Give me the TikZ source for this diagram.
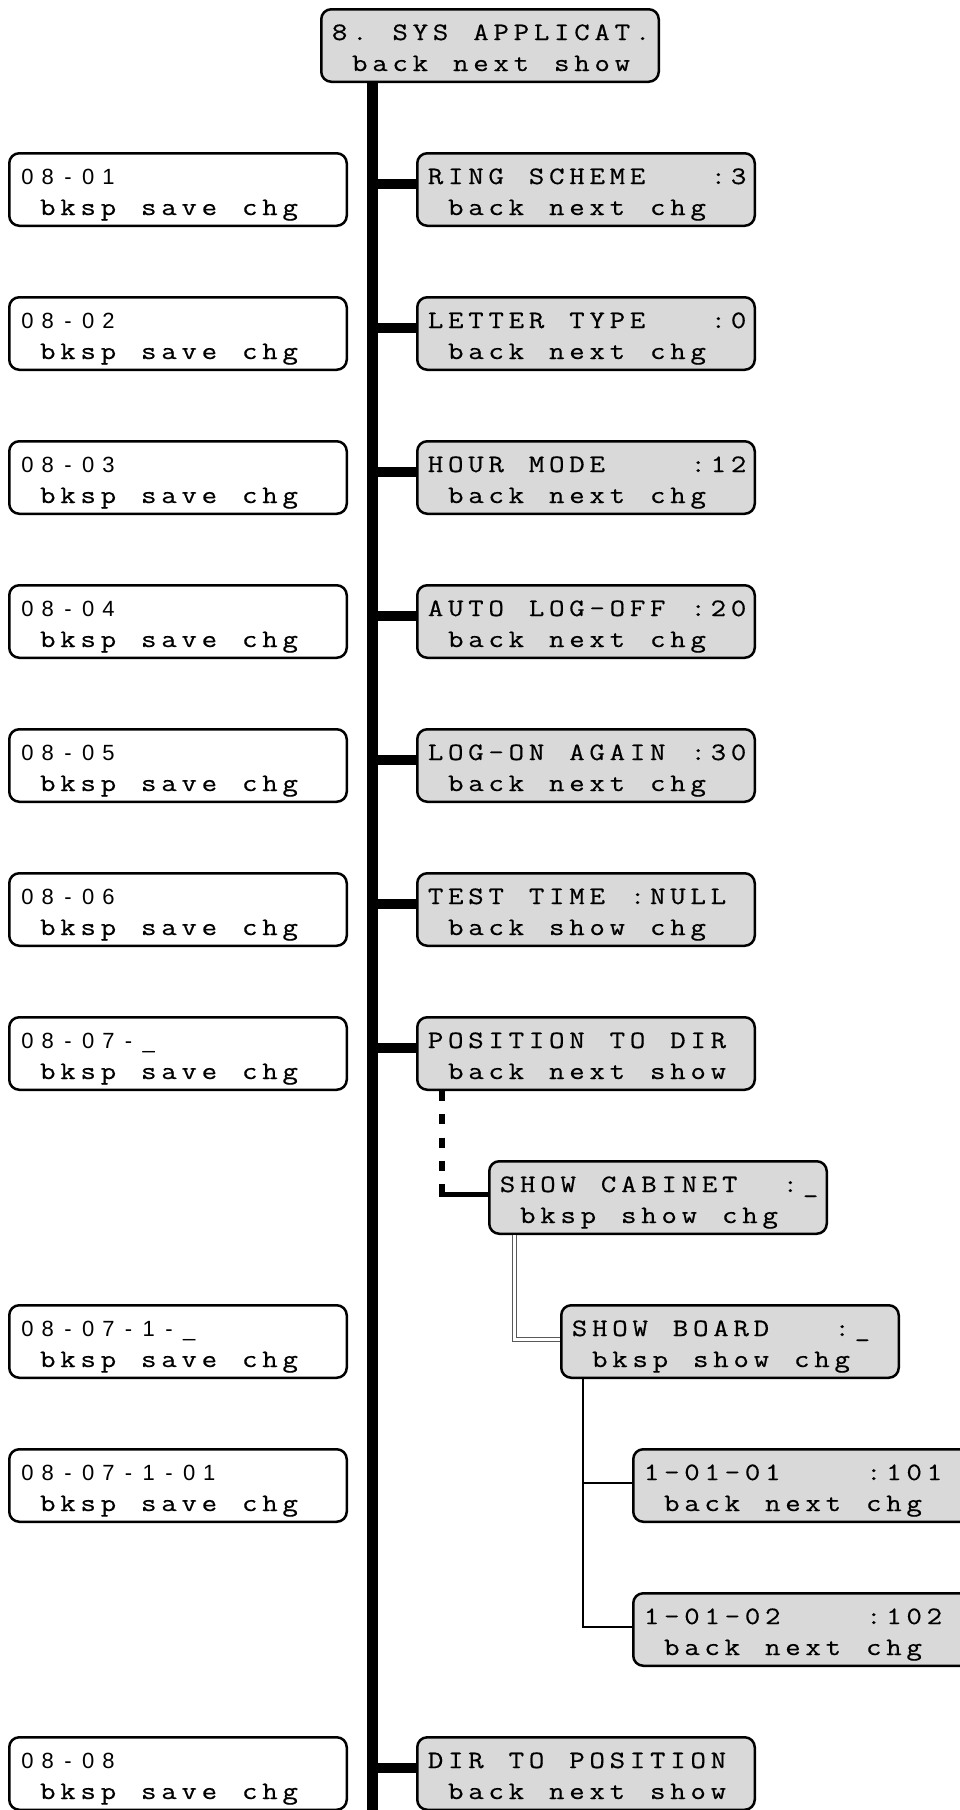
\documentclass[tikz,border=0pt]{standalone}
\usepackage{fontspec}
\newfontfamily\lcdmono[FakeStretch=1.2,FakeBold=0.5]{Latin Modern Mono}
\newfontfamily\lcdsans{Liberation Sans}
\definecolor{lcdgray}{RGB}{217,217,217}

\newlength\lcdpitch
\setlength\lcdpitch{20.2pt}
\newcommand\lcdfont{\lcdmono\fontsize{25pt}{31pt}\selectfont}
\def\cellloop#1{\ifx#1\relax\else\makebox[\lcdpitch]{#1}\expandafter\cellloop\fi}
\newcommand\cells[1]{\cellloop#1\relax}
\newcommand\digits[1]{{\lcdsans\fontsize{22pt}{31pt}\selectfont\cellloop#1\relax}}
\newcommand\twolines[2]{\vbox to 72.5pt{\offinterlineskip
  \kern30.75pt\hbox to 321pt{\raisebox{0pt}[0pt][0pt]{#1}\hss}%
  \kern31pt\hbox to 321pt{\raisebox{0pt}[0pt][0pt]{\cells{#2}}\hss}\vss}}
\newcommand\lcdlines[2]{\twolines{\cells{#1}}{#2}}
\newcommand\vallines[2]{\twolines{\digits{#1}}{#2}}

\begin{document}
\begin{tikzpicture}[x=1pt,y=-1pt,
lcd/.style={
  draw,
  line width=2.5pt,
  rounded corners=10pt,
  fill=lcdgray,
  inner xsep=8.25pt,
  inner ysep=0pt,
  anchor=north west,
  font=\lcdfont
  },
entry/.style={lcd, fill=white},
trunk/.style={line width=11pt},
branch/.style={line width=10pt},
dashlink/.style={line width=6pt, dash pattern=on 10pt off 13.3pt},
sublink/.style={line width=5pt},
dbllink/.style={draw=black!65, double=white, double distance=3pt, line width=1pt},
leaflink/.style={line width=2pt}
]
\useasboundingbox (0,0) rectangle (960,1810);
\clip (0,0) rectangle (960,1810);

% menu column
\node[lcd] (sys) at (320,8) {\lcdlines{8.~SYS~APPLICAT.}{~back~next~show}};
\node[lcd] (set-1) at (416,152) {\lcdlines{RING~SCHEME~~~:3}{~back~next~chg}};
\node[lcd] (set-2) at (416,296) {\lcdlines{LETTER~TYPE~~~:0}{~back~next~chg}};
\node[lcd] (set-3) at (416,440) {\lcdlines{HOUR~MODE~~~~:12}{~back~next~chg}};
\node[lcd] (set-4) at (416,584) {\lcdlines{AUTO~LOG-OFF~:20}{~back~next~chg}};
\node[lcd] (set-5) at (416,728) {\lcdlines{LOG-ON~AGAIN~:30}{~back~next~chg}};
\node[lcd] (set-6) at (416,872) {\lcdlines{TEST~TIME~:NULL}{~back~show~chg}};
\node[lcd] (set-7) at (416,1016) {\lcdlines{POSITION~TO~DIR}{~back~next~show}};
\node[lcd] (set-8) at (416,1736) {\lcdlines{DIR~TO~POSITION}{~back~next~show}};
% position to dir
\node[lcd] (cab) at (488,1160) {\lcdlines{SHOW~CABINET~~:\_}{~bksp~show~chg}};
\node[lcd] (board) at (560,1304) {\lcdlines{SHOW~BOARD~~~:\_}{~bksp~show~chg}};
\node[lcd] (leaf-1) at (632,1448) {\lcdlines{1-01-01~~~~:101}{~back~next~chg}};
\node[lcd] (leaf-2) at (632,1592) {\lcdlines{1-01-02~~~~:102}{~back~next~chg}};

% edit screens
\foreach \i in {1,...,6}
  \node[entry] (val-\i) at (8,8+144*\i) {\vallines{08-0\i}{~bksp~save~chg}};
\node[entry] (val-7) at (8,1016) {\vallines{08-07-\_}{~bksp~save~chg}};
\node[entry] (val-8) at (8,1304) {\vallines{08-07-1-\_}{~bksp~save~chg}};
\node[entry] (val-9) at (8,1448) {\vallines{08-07-1-01}{~bksp~save~chg}};
\node[entry] (val-10) at (8,1736) {\vallines{08-08}{~bksp~save~chg}};

\coordinate (trunktop) at ([xshift=52.5pt]sys.south west);
\coordinate (trunkend) at (372.5,1820);
\draw[trunk] (trunktop) -- (trunkend);
\foreach \i in {1,...,8}
{\coordinate (in-\i) at ([yshift=6pt]set-\i.west);
  \draw[branch] (in-\i) -- (in-\i -| trunktop);
}

\coordinate (dashtop) at ([xshift=26pt]set-7.south west);
\coordinate (cab-in) at ([yshift=3.5pt]cab.west);
\draw[dashlink] (dashtop) -- (dashtop |- cab-in);
\draw[sublink, shorten <=-3pt] (dashtop |- cab-in) -- (cab-in);

\coordinate (cab-out) at ([xshift=26.5pt]cab.south west);
\coordinate (board-in) at ([yshift=2.5pt]board.west);
\draw[dbllink] (cab-out) |- (board-in);

\coordinate (board-out) at ([xshift=23pt]board.south west);
\foreach \i in {1,2}
{\coordinate (leaf-in-\i) at ([yshift=2.5pt]leaf-\i.west);
  \draw[leaflink] (board-out) |- (leaf-in-\i);
}
\end{tikzpicture}
\end{document}
